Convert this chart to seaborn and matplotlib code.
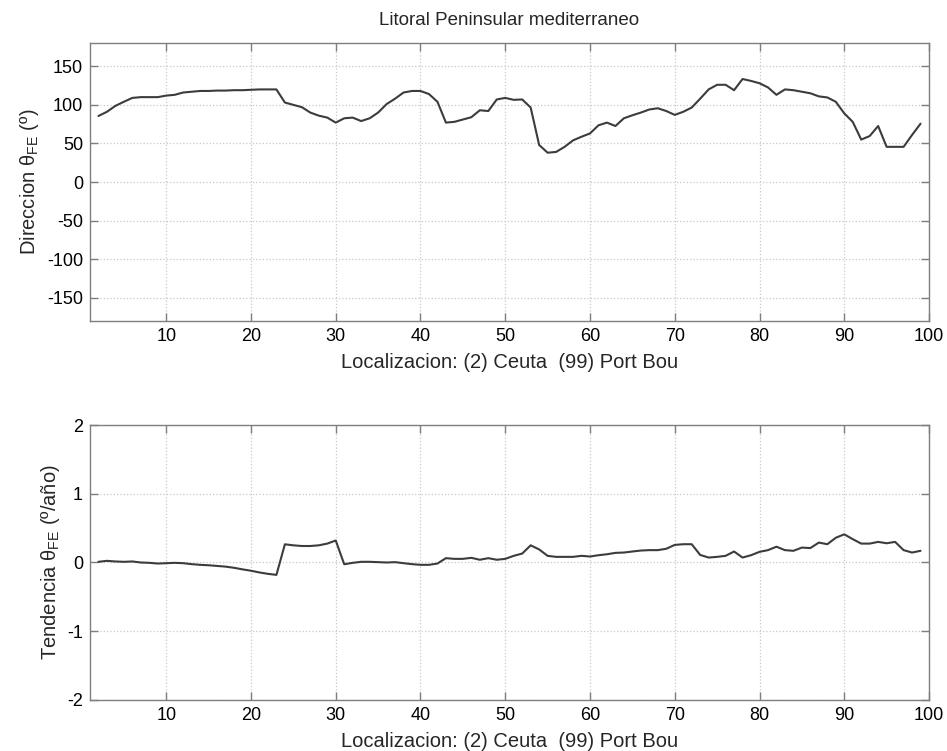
import numpy as np
import pandas as pd
import seaborn as sns
import matplotlib.pyplot as plt

# localizaciones (2) Ceuta ... (99) Port Bou
loc = list(range(2, 100))

direccion = [85.6, 91, 98.7, 104, 109, 110, 110, 110, 112, 113,
             116, 117, 118, 118, 118.5, 118.5, 119, 119, 119.5, 120,
             120, 120, 103, 100, 97, 90, 86, 83.5, 77, 82.6,
             83.5, 79, 82.6, 90, 101, 108, 116, 118, 118, 114,
             104, 77, 78, 81, 84, 93, 92, 107, 109, 106.5,
             107, 96.5, 48, 38, 39, 45.6, 54, 58.7, 63, 73.5,
             77, 72.6, 82.6, 86.5, 90, 94, 95.6, 92, 87, 91,
             96.5, 108, 120, 126, 126, 119, 133.5, 131, 128, 122.6,
             113, 120, 119, 117, 115, 111, 109.6, 104, 89, 78,
             55, 59.6, 72.6, 45.6, 45.6, 45.6, 61, 75.6]

tendencia = [0.01, 0.024, 0.015, 0.01, 0.015, 0.0, -0.005, -0.015, -0.01, -0.005,
             -0.01, -0.024, -0.034, -0.04, -0.05, -0.06, -0.077, -0.1, -0.12, -0.145,
             -0.165, -0.18, 0.265, 0.25, 0.24, 0.24, 0.25, 0.275, 0.32, -0.025,
             -0.005, 0.01, 0.01, 0.005, 0.0, 0.005, -0.01, -0.024, -0.034, -0.034,
             -0.015, 0.063, 0.053, 0.053, 0.068, 0.04, 0.063, 0.04, 0.053, 0.097,
             0.13, 0.25, 0.19, 0.097, 0.082, 0.082, 0.082, 0.097, 0.087, 0.106,
             0.12, 0.14, 0.145, 0.16, 0.174, 0.18, 0.18, 0.2, 0.256, 0.266,
             0.266, 0.11, 0.072, 0.082, 0.097, 0.16, 0.072, 0.106, 0.155, 0.18,
             0.23, 0.18, 0.17, 0.217, 0.21, 0.29, 0.266, 0.36, 0.41, 0.34,
             0.275, 0.275, 0.3, 0.28, 0.3, 0.18, 0.145, 0.17]

df = pd.DataFrame({'loc': loc, 'direccion': direccion, 'tendencia': tendencia})

sns.set_style("ticks")
plt.rcParams['font.family'] = ['Liberation Sans', 'DejaVu Sans']
plt.rcParams['axes.unicode_minus'] = False
plt.rcParams['mathtext.fontset'] = 'custom'
plt.rcParams['mathtext.rm'] = 'Liberation Sans'
plt.rcParams['mathtext.it'] = 'Liberation Sans:italic'

fig = plt.figure(figsize=(9.47, 7.51), dpi=100)
ax1 = fig.add_axes([0.095, 0.5726, 0.886, 0.37])
ax2 = fig.add_axes([0.095, 0.068, 0.886, 0.366])

edge = '#7f7f7f'
for ax, col, lim, ticks in [(ax1, 'direccion', (-180, 180), np.arange(-150, 151, 50)),
                            (ax2, 'tendencia', (-2, 2), [-2, -1, 0, 1, 2])]:
    sns.lineplot(data=df, x='loc', y=col, ax=ax, color='#3c3c3c', linewidth=1.5)
    ax.set_xlim(1, 100)
    ax.set_ylim(*lim)
    ax.set_xticks(range(10, 101, 10))
    ax.set_yticks(ticks)
    ax.grid(True, linestyle=':', color='#c8c8c8', linewidth=0.9)
    for s in ax.spines.values():
        s.set_color(edge)
        s.set_linewidth(1.0)
    ax.tick_params(direction='in', top=True, right=True, length=6, width=1,
                   color=edge, labelsize=13, labelcolor='black', pad=5)
    ax.set_xlabel('Localizacion: (2) Ceuta  (99) Port Bou', fontsize=14.5, labelpad=6)

ax1.set_ylabel(r'Direccion θ$_{\mathrm{FE}}$ (º)', fontsize=14.5, labelpad=4)
ax2.set_ylabel(r'Tendencia θ$_{\mathrm{FE}}$ (º/año)', fontsize=14.5, labelpad=4)
ax1.set_title('Litoral Peninsular mediterraneo', fontsize=13.5, pad=13)

fig.savefig('out.png', dpi=100)
